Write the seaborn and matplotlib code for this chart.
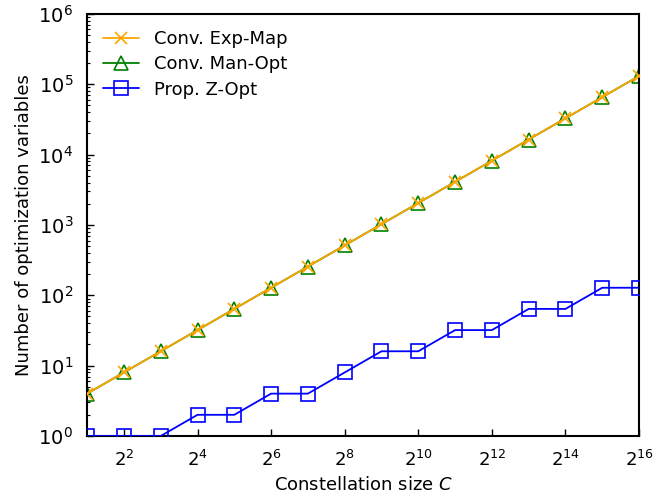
import matplotlib
matplotlib.use("Agg")
import matplotlib.pyplot as plt
import seaborn as sns
import numpy as np
import pandas as pd
from matplotlib.ticker import FixedLocator, NullLocator, FixedFormatter, NullFormatter

C_vals = [2, 4, 8, 16, 32, 64, 128, 256, 512, 1024, 2048, 4096, 8192, 16384, 32768, 65536]
exp_map = [4, 8, 16, 32, 64, 128, 256, 512, 1024, 2048, 4096, 8192, 16384, 32768, 65536, 131072]
man_opt = [4, 8, 16, 32, 64, 128, 256, 512, 1024, 2048, 4096, 8192, 16384, 32768, 65536, 131072]
z_opt = [1, 1, 1, 2, 2, 4, 4, 8, 16, 16, 32, 32, 64, 64, 128, 128]
xtick_exps = [2, 4, 6, 8, 10, 12, 14, 16]

sns.set_theme(style="white")
plt.rcParams['font.family'] = ['DejaVu Sans']
plt.rcParams['mathtext.fontset'] = 'dejavusans'
plt.rcParams['text.color'] = 'black'
plt.rcParams['axes.labelcolor'] = 'black'
plt.rcParams['xtick.color'] = 'black'
plt.rcParams['ytick.color'] = 'black'

fig, ax = plt.subplots(figsize=(6.65, 4.96), dpi=100)

sns.lineplot(x=C_vals, y=man_opt, ax=ax, color='green', marker='^', markersize=10,
             markerfacecolor='none', markeredgecolor='green', markeredgewidth=1.2,
             linewidth=1.3, label='Conv. Man-Opt', zorder=2)
sns.lineplot(x=C_vals, y=exp_map, ax=ax, color='orange', marker='x', markersize=9,
             markeredgecolor='orange', markeredgewidth=1.2, linewidth=1.3,
             label='Conv. Exp-Map', zorder=3)
sns.lineplot(x=C_vals, y=z_opt, ax=ax, color='blue', marker='s', markersize=9.5,
             markerfacecolor='none', markeredgecolor='blue', markeredgewidth=1.2,
             linewidth=1.3, label='Prop. Z-Opt', zorder=3)

ax.set_xscale('log', base=2)
ax.set_yscale('log')
ax.set_xlim(2, 65536)
ax.set_ylim(1, 1e6)
ax.xaxis.set_major_locator(FixedLocator([2 ** k for k in xtick_exps]))
ax.xaxis.set_major_formatter(FixedFormatter([f'$2^{{{k}}}$' for k in xtick_exps]))
ax.xaxis.set_minor_locator(NullLocator())
ax.yaxis.set_minor_formatter(NullFormatter())

ax.tick_params(axis='both', which='major', direction='in', length=5, width=1,
               bottom=True, left=True, top=False, right=False, colors='black')
ax.tick_params(axis='x', which='major', labelsize=13, pad=10)
ax.tick_params(axis='y', which='major', labelsize=14, pad=10)
ax.tick_params(axis='y', which='minor', direction='in', length=2.5, width=0.8, left=True, right=False)
for s in ax.spines.values():
    s.set_color('black')
    s.set_linewidth(1.5)

ax.set_xlabel('Constellation size $C$', fontsize=13, color='black')
ax.set_ylabel('Number of optimization variables', fontsize=13, color='black')

handles, labels = ax.get_legend_handles_labels()
order = [labels.index('Conv. Exp-Map'), labels.index('Conv. Man-Opt'), labels.index('Prop. Z-Opt')]
leg = ax.legend([handles[i] for i in order], [labels[i] for i in order], loc='upper left',
                frameon=False, fontsize=13, handlelength=2.0, labelspacing=0.4)
for t in leg.get_texts():
    t.set_color('black')

fig.subplots_adjust(left=0.131, right=0.961, top=0.972, bottom=0.121)
fig.savefig('out.png', dpi=100)
